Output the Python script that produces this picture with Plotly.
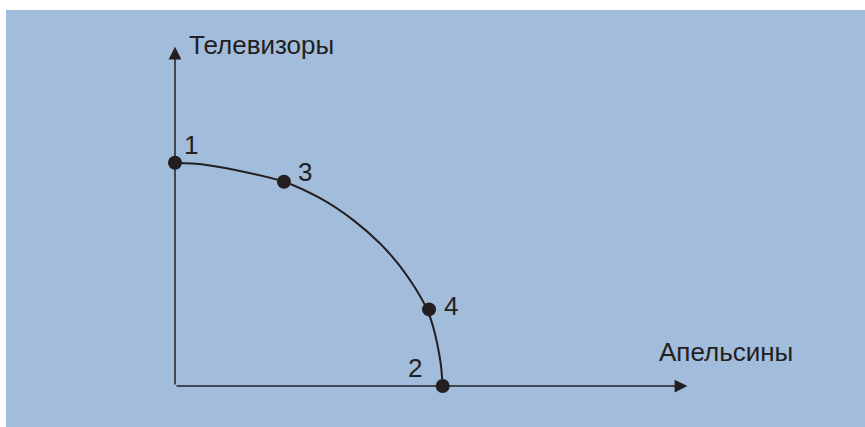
import plotly.graph_objects as go

# production possibility curve (oranges, TVs)
curve_oranges = [0, 1.06, 2.30, 4.07, 5.42, 6.66, 7.66, 8.30, 8.85, 9.20, 9.44, 9.65, 9.80, 9.93, 10]
curve_tvs = [10, 9.92, 9.66, 9.15, 8.41, 7.43, 6.38, 5.52, 4.61, 3.93, 3.37, 2.62, 1.87, 0.96, 0]

point_labels = ["1", "3", "4", "2"]
point_oranges = [0, 4.07, 9.49, 10]
point_tvs = [10, 9.15, 3.43, 0]

x_title = "Апельсины"
y_title = "Телевизоры"

BG = "#a2bcdb"
INK = "#231f20"
FONT = "Liberation Sans, Arial, sans-serif"
FS = 26

fig = go.Figure()
fig.add_trace(go.Scatter(
    x=curve_oranges, y=curve_tvs, mode="lines",
    line=dict(color=INK, width=2, shape="spline", smoothing=0.8),
    hoverinfo="skip", showlegend=False,
))
fig.add_trace(go.Scatter(
    x=point_oranges, y=point_tvs, mode="markers",
    marker=dict(color=INK, size=14),
    showlegend=False,
))

# label offsets in pixels (dx, dy) for each point
offsets = {"1": (16, 18), "3": (21, 10), "4": (22, 3), "2": (-28, 18)}
for lab, xv, yv in zip(point_labels, point_oranges, point_tvs):
    dx, dy = offsets[lab]
    fig.add_annotation(x=xv, y=yv, text=lab, showarrow=False,
                       xshift=dx, yshift=dy,
                       font=dict(size=FS, color=INK, family=FONT))

# axes with arrows
fig.add_annotation(x=19.14, y=0, ax=0, ay=0, axref="x", ayref="y",
                   text="", showarrow=True, arrowhead=2, arrowsize=1.7,
                   arrowwidth=1.5, arrowcolor=INK)
fig.add_annotation(x=0, y=15.19, ax=0, ay=0, axref="x", ayref="y",
                   text="", showarrow=True, arrowhead=2, arrowsize=1.7,
                   arrowwidth=1.5, arrowcolor=INK)

fig.add_annotation(x=0.45, y=15.27, text=y_title, showarrow=False,
                   xanchor="left", yanchor="middle",
                   font=dict(size=FS, color=INK, family=FONT))
fig.add_annotation(x=17.99, y=1.536, text=x_title, showarrow=False,
                   xanchor="left", yanchor="middle",
                   font=dict(size=FS, color=INK, family=FONT))

fig.update_xaxes(range=[-6.313, 25.775], showgrid=False, zeroline=False,
                 showticklabels=False, ticks="", showline=False)
fig.update_yaxes(range=[-1.836, 16.838], showgrid=False, zeroline=False,
                 showticklabels=False, ticks="", showline=False)
fig.update_layout(
    width=865, height=427,
    margin=dict(l=6, r=0, t=10, b=0),
    paper_bgcolor="white", plot_bgcolor=BG,
    font=dict(family=FONT, color=INK),
)

# drop the browser's default 8px body margin so the figure sits at (0, 0)
fig.write_html("out.html", config={"displayModeBar": False},
               post_script="document.body.style.margin='0';")
